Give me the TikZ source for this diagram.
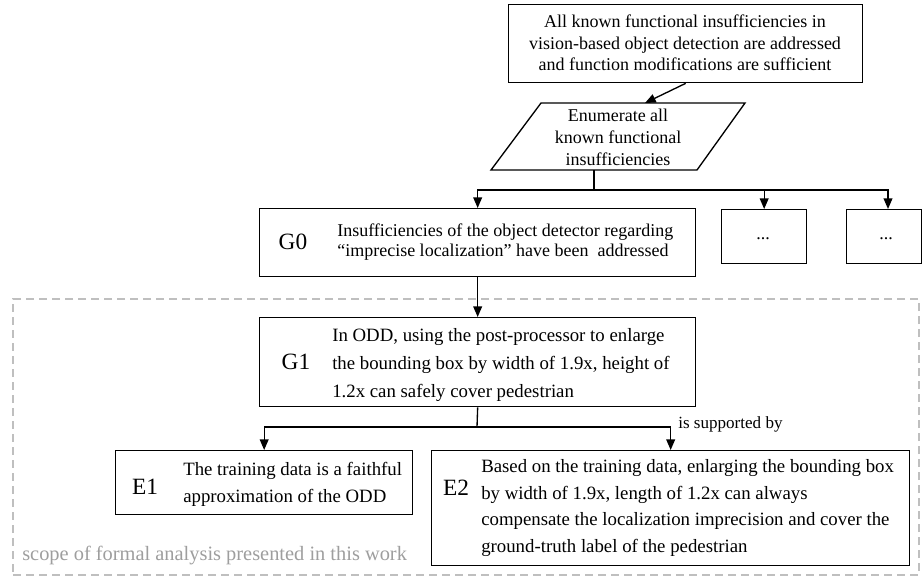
\documentclass[tikz,border=0pt]{standalone}
\usepackage{fontspec}
\setmainfont{Liberation Serif}
\usetikzlibrary{arrows.meta}
\begin{document}
\begin{tikzpicture}[x=0.75pt,y=-0.75pt,
  boxst/.style={draw, line width=1pt, anchor=north west, inner sep=0pt},
  lab/.style={font=\fontsize{17.5}{20}\selectfont, inner sep=0pt},
  txt/.style={align=left, inner sep=0pt, anchor=west},
  smalltxt/.style={font=\fontsize{13.5}{15}\selectfont},
  bigtxt/.style={font=\fontsize{14.1}{20.2}\selectfont},
  conn/.style={line width=1pt},
  arr/.style={conn, -{Triangle[length=8pt,width=6.6pt]}},
  scopest/.style={draw=black!25, line width=1.5pt, dash pattern=on 6pt off 3.75pt, anchor=north west, inner sep=0pt}
]
\useasboundingbox (0,0) rectangle (923,576);

% scope rectangle
\node[scopest, minimum width=906*0.75pt, minimum height=276*0.75pt] (scope) at (12,298) {};
\node[anchor=base west, inner sep=0pt, text=black!38, font=\fontsize{15.3}{18}\selectfont] (scopetxt) at (22,560) {scope of formal analysis presented in this work};

% top box
\node[boxst, minimum width=354*0.75pt, minimum height=78*0.75pt] (top) at (508,4) {};
\node[align=center, inner sep=0pt, font=\fontsize{13.5}{16.1}\selectfont] (toptxt) at (685,43) {All known functional insufficiencies in\\vision-based object detection are addressed\\and function modifications are sufficient};

% parallelogram
\coordinate (p1) at (541,103);
\coordinate (p2) at (745,103);
\coordinate (p3) at (697,170);
\coordinate (p4) at (491,170);
\coordinate (paratop) at (645,103);
\coordinate (parabot) at (594,170);
\draw[conn] (p1) -- (p2) -- (p3) -- (p4) -- cycle;
\node[align=center, inner sep=0pt, font=\fontsize{13.5}{16.5}\selectfont] (para) at (618,137) {Enumerate all\\known functional\\insufficiencies};
\draw[arr] (top.south) -- (paratop);

% level G0
\node[boxst, minimum width=436*0.75pt, minimum height=68*0.75pt] (G0) at (259,208) {};
\node[lab] (G0lab) at (293,242) {G0};
\node[txt, smalltxt] (G0txt) at (337,242) {Insufficiencies of the object detector regarding\\“imprecise localization” have been~ addressed};
\node[boxst, minimum width=85*0.75pt, minimum height=54*0.75pt] (d1) at (721,209) {};
\node[smalltxt, inner sep=0pt] (d1txt) at (763,239) {...};
\node[boxst, minimum width=75*0.75pt, minimum height=54*0.75pt] (d2) at (846,209) {};
\node[smalltxt, inner sep=0pt] (d2txt) at (886,239) {...};
\coordinate (d2in) at (888,209);

\coordinate (jn) at (594,190);
\draw[conn] (parabot) -- (jn);
\draw[arr] (jn) -| (G0.north);
\draw[arr] (jn) -| (d1.north);
\draw[arr] (jn) -| (d2in);

% G1
\node[boxst, minimum width=436*0.75pt, minimum height=89*0.75pt] (G1) at (259,317) {};
\node[lab] (G1lab) at (296,362) {G1};
\node[txt, font=\fontsize{14.1}{21}\selectfont] (G1txt) at (332,365) {In ODD, using the post-processor to enlarge\\the bounding box by width of 1.9x, height of\\1.2x can safely cover pedestrian};
\draw[arr] (G0.south) -- (G1.north);

% E1, E2
\node[boxst, minimum width=297*0.75pt, minimum height=64*0.75pt] (E1) at (115,450) {};
\node[lab] (E1lab) at (145,487) {E1};
\node[txt, bigtxt] (E1txt) at (183,484) {The training data is a faithful\\approximation of the ODD};
\node[boxst, minimum width=478*0.75pt, minimum height=115*0.75pt] (E2) at (431,450) {};
\node[lab] (E2lab) at (456,488) {E2};
\node[txt, font=\fontsize{14.1}{20}\selectfont] (E2txt) at (481,508) {Based on the training data, enlarging the bounding box\\by width of 1.9x, length of 1.2x can always\\compensate the localization imprecision and cover the\\ground-truth label of the pedestrian};

\coordinate (br) at (477,427);
\draw[conn] (G1.south) -- (br);
\draw[arr] (br) -| (E1.north);
\draw[arr] (br) -| (E2.north);
\node[anchor=west, inner sep=0pt, font=\fontsize{12.8}{15}\selectfont] (sup) at (678,424) {is supported by};
\end{tikzpicture}
\end{document}
